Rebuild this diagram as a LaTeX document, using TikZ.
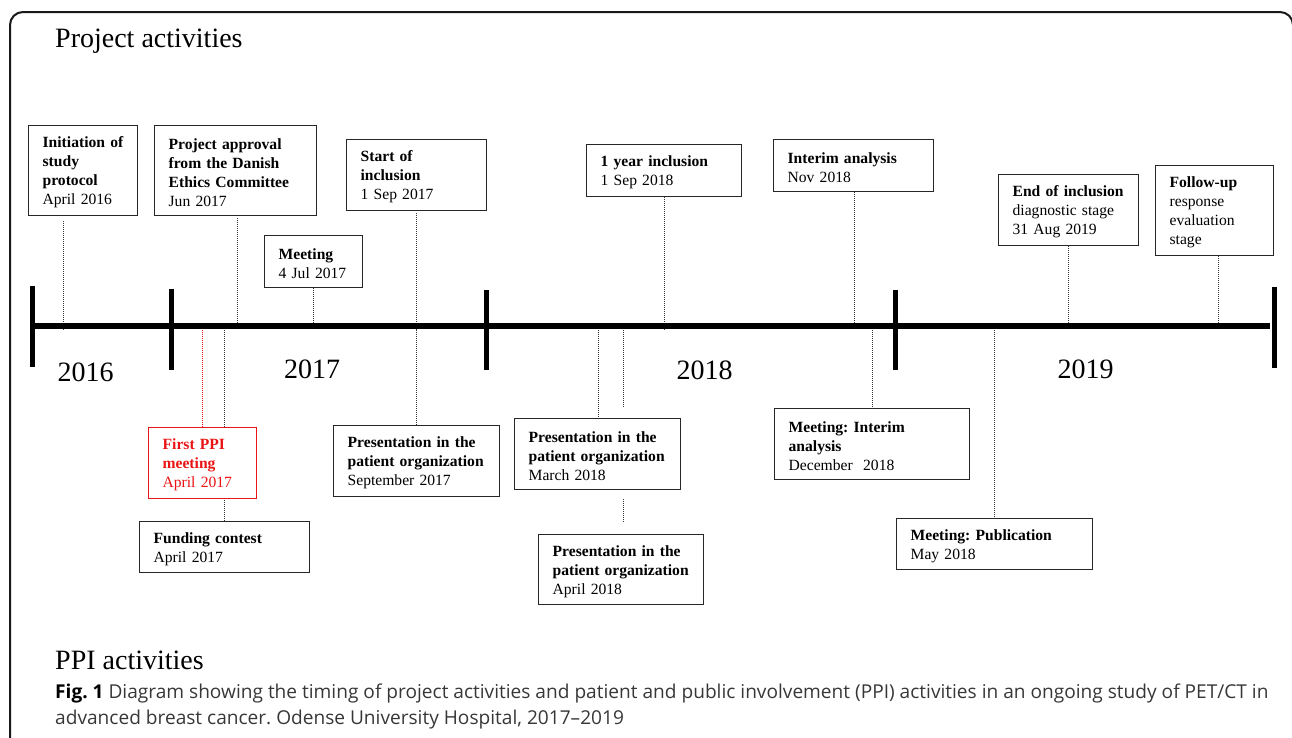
\documentclass[tikz,border=0pt]{standalone}
\usepackage{fontspec}
\setmainfont{Liberation Serif}
\newfontfamily\capfont{Open Sans}
\usetikzlibrary{backgrounds}
\frenchspacing
\definecolor{ppired}{RGB}{235,20,20}
\definecolor{capgray}{RGB}{55,55,55}
\newcommand{\mb}[1]{\mbox{#1}}
\newcommand{\boxend}{\par\vspace{-4pt}}
\begin{document}
\begin{tikzpicture}[x=1pt,y=-1pt,
  pbox/.style={draw=black!85, line width=1.3pt, fill=white, align=left, anchor=north west,
    inner xsep=14pt, inner ysep=0pt, font=\fontsize{15.6}{19}\selectfont,
    execute at end node=\boxend},
  conn/.style={line width=0.9pt, black!80, dash pattern=on 1pt off 1pt},
  axisline/.style={line width=6pt, black},
  yeartick/.style={line width=5pt, black},
  bigtext/.style={font=\fontsize{28}{32}\selectfont, inner sep=0pt},
  captext/.style={anchor=base west, inner sep=0pt, font=\capfont\fontsize{19.1}{26}\selectfont, text=capgray}
]
\useasboundingbox (0,0) rectangle (1292,737);
% frame
\draw[line width=2pt, black!90, rounded corners=13pt] (10,740) -- (10,12) -- (1293,12) -- (1293,740);
% titles
\node[bigtext, anchor=base west] (ptitle) at (55,47) {Project activities};
\node[bigtext, anchor=base west] (ppititle) at (55,669) {PPI activities};
% axis
\draw[axisline] (32,326) -- (1270,326);
\draw[yeartick] (32,286) -- (32,367);
\draw[yeartick] (171,289) -- (171,370);
\draw[yeartick] (486,290) -- (486,370);
\draw[yeartick] (895,290) -- (895,370);
\draw[yeartick] (1274,287) -- (1274,368);
\node[bigtext, anchor=base] (y16) at (85.5,381.5) {2016};
\node[bigtext, anchor=base] (y17) at (312,378.5) {2017};
\node[bigtext, anchor=base] (y18) at (704.5,379.5) {2018};
\node[bigtext, anchor=base] (y19) at (1085.5,378.5) {2019};
% axis coordinates
\coordinate (cInit) at (63,330);
\coordinate (cAppr) at (237,330);
\coordinate (cMeet) at (313,330);
\coordinate (cStart) at (416,330);
\coordinate (cYear) at (664,330);
\coordinate (cInter) at (854,330);
\coordinate (cEnd) at (1068,330);
\coordinate (cFollow) at (1218,330);
\coordinate (cRed) at (202,326);
\coordinate (cFund) at (224,326);
\coordinate (cPres) at (416,326);
\coordinate (cMar) at (598,326);
\coordinate (cApr) at (623,326);
\coordinate (cMint) at (872,326);
\coordinate (cPub) at (994,326);
% project boxes
\node[pbox, minimum width=109pt, minimum height=90pt, text width=81pt] (init) at (28,125)
  {\mb{\textbf{Initiation of}}\\\textbf{study}\\\textbf{protocol}\\\mb{April 2016}};
\node[pbox, minimum width=162pt, minimum height=90pt, text width=134pt] (appr) at (154,125)
  {\mb{\textbf{Project approval}}\\\mb{\textbf{from the Danish}}\\\mb{\textbf{Ethics Committee}}\\\mb{Jun 2017}};
\node[pbox, minimum width=98pt, minimum height=52pt, text width=70pt] (meet) at (264,235)
  {\textbf{Meeting}\\\mb{4 Jul 2017}};
\node[pbox, minimum width=140pt, minimum height=71pt, text width=112pt] (start) at (346,139)
  {\mb{\textbf{Start of}}\\\textbf{inclusion}\\\mb{1 Sep 2017}};
\node[pbox, minimum width=155pt, minimum height=52pt, text width=127pt] (year) at (586,144)
  {\mb{\textbf{1 year inclusion}}\\\mb{1 Sep 2018}};
\node[pbox, minimum width=160pt, minimum height=52pt, text width=132pt] (inter) at (773,139)
  {\mb{\textbf{Interim analysis}}\\\mb{Nov 2018}};
\node[pbox, minimum width=140pt, minimum height=71pt, text width=112pt] (endinc) at (998,174)
  {\mb{\textbf{End of inclusion}}\\\mb{diagnostic stage}\\\mb{31 Aug 2019}};
\node[pbox, minimum width=118pt, minimum height=90pt, text width=90pt] (follow) at (1155,165)
  {\textbf{Follow-up}\\response\\evaluation\\stage};
% PPI boxes
\node[pbox, draw=ppired, text=ppired, minimum width=108pt, minimum height=71pt, text width=80pt] (red) at (148,427)
  {\mb{\textbf{First PPI}}\\\textbf{meeting}\\\mb{April 2017}};
\node[pbox, minimum width=170pt, minimum height=51pt, text width=142pt] (fund) at (139,521)
  {\mb{\textbf{Funding contest}}\\\mb{April 2017}};
\node[pbox, minimum width=166pt, minimum height=71pt, text width=138pt] (pres) at (333,425)
  {\mb{\textbf{Presentation in the}}\\\mb{\textbf{patient organization}}\\\mb{September 2017}};
\node[pbox, minimum width=166pt, minimum height=71pt, text width=138pt] (mar) at (514,418)
  {\mb{\textbf{Presentation in the}}\\\mb{\textbf{patient organization}}\\\mb{March 2018}};
\node[pbox, minimum width=165pt, minimum height=70pt, text width=137pt] (apr) at (538,534)
  {\mb{\textbf{Presentation in the}}\\\mb{\textbf{patient organization}}\\\mb{April 2018}};
\node[pbox, minimum width=195pt, minimum height=71pt, text width=167pt] (mint) at (774,408)
  {\mb{\textbf{Meeting: Interim}}\\\textbf{analysis}\\\mb{December\ \ 2018}};
\node[pbox, minimum width=196pt, minimum height=51pt, text width=168pt] (pub) at (896,518)
  {\mb{\textbf{Meeting: Publication}}\\\mb{May 2018}};
% connectors
\begin{scope}[on background layer]
\draw[conn] ([yshift=-5pt]init.south -| cInit) -- (cInit);
\draw[conn] ([yshift=-2pt]appr.south -| cAppr) -- (cAppr);
\draw[conn] (meet.south -| cMeet) -- (cMeet);
\draw[conn] ([yshift=-2pt]start.south -| cStart) -- (cStart);
\draw[conn] (year.south -| cYear) -- (cYear);
\draw[conn] (inter.south -| cInter) -- (cInter);
\draw[conn] (endinc.south -| cEnd) -- (cEnd);
\draw[conn] (follow.south -| cFollow) -- (cFollow);
\draw[conn, ppired] (cRed) -- (red.north -| cRed);
\draw[conn] (cFund) -- (fund.north -| cFund);
\draw[conn] (cPres) -- (pres.north -| cPres);
\draw[conn] (cMar) -- (mar.north -| cMar);
\draw[conn] (cApr) -- ([yshift=10pt]mar.north -| cApr);
\draw[conn] ([yshift=-9pt]mar.south -| cApr) -- ([yshift=11pt]apr.north -| cApr);
\draw[conn] (cMint) -- (mint.north -| cMint);
\draw[conn] (cPub) -- (pub.north -| cPub);
\end{scope}
% caption
\node[captext] (cap1) at (55,698)
  {\textbf{\color{black}Fig. 1} Diagram showing the timing of project activities and patient and public involvement (PPI) activities in an ongoing study of PET/CT in};
\node[captext] (cap2) at (55,724)
  {advanced breast cancer. Odense University Hospital, 2017–2019};
\end{tikzpicture}
\end{document}
